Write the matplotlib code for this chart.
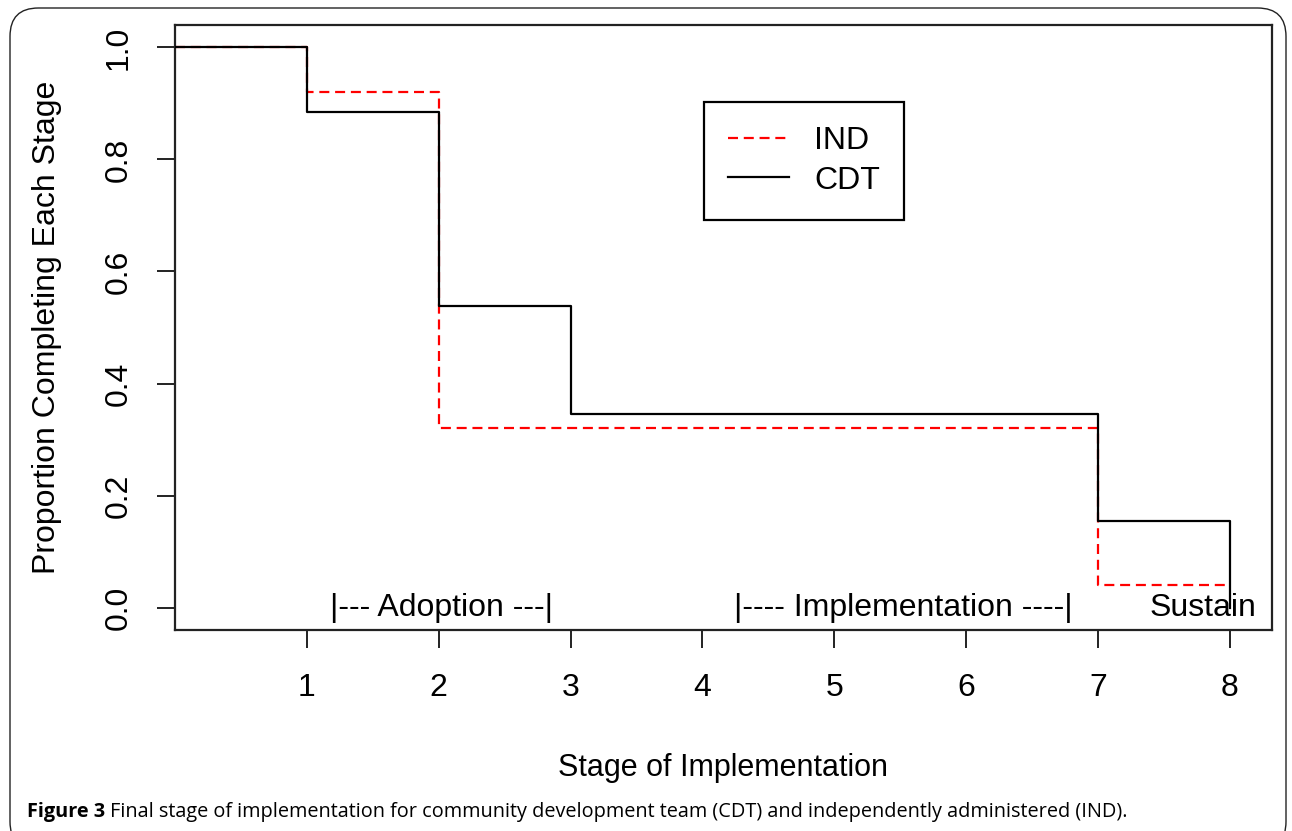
import matplotlib
matplotlib.use("Agg")
import matplotlib.pyplot as plt
from matplotlib.patches import FancyBboxPatch
from matplotlib.lines import Line2D

# Data
stages = [0, 1, 2, 3, 4, 5, 6, 7, 8]
cdt = [1.0, 0.885, 0.538, 0.346, 0.346, 0.346, 0.346, 0.154, 0.0]
ind = [1.0, 0.92, 0.32, 0.32, 0.32, 0.32, 0.32, 0.04, 0.04]
xticks = [1, 2, 3, 4, 5, 6, 7, 8]
yticks = [0.0, 0.2, 0.4, 0.6, 0.8, 1.0]
ytick_labels = ["0.0", "0.2", "0.4", "0.6", "0.8", "1.0"]
phase_labels = ["|--- Adoption ---|", "|---- Implementation ----|", "Sustain"]
phase_x = [2.02, 5.52, 7.8]

plt.rcParams['font.family'] = ['Liberation Sans', 'DejaVu Sans']

W, H = 1292, 831
fig = plt.figure(figsize=(W / 100, H / 100), dpi=100)

# outer rounded frame
frame = FancyBboxPatch((10 / W, 1 - 850 / H), (1286 - 10) / W, (850 - 8) / H,
                       boxstyle="round,pad=0,rounding_size=0.022",
                       transform=fig.transFigure, fill=False,
                       edgecolor="#222222", linewidth=1.0, mutation_aspect=W / H)
fig.patches.append(frame)

ax = fig.add_axes([175 / W, 1 - 630 / H, (1272 - 175) / W, (630 - 25) / H])
ax.set_xlim(0, 8.32)
ax.set_ylim(-0.04, 1.04)

lw = 1.6
ax.step(stages, ind, where="post", color="#ff0000", linewidth=lw,
        linestyle=(0, (4.5, 2.6)), zorder=2)
ax.step(stages, cdt, where="post", color="black", linewidth=lw, zorder=3)

for lab, xp in zip(phase_labels, phase_x):
    ax.text(xp, 0.0, lab, ha="center", va="center", fontsize=23)

ax.set_xticks(xticks)
ax.set_xticklabels([str(t) for t in xticks])
ax.set_yticks(yticks)
ax.set_yticklabels(ytick_labels, rotation=90, va="center")
ax.tick_params(axis="both", length=13, width=1.4, labelsize=23, color="#222222")
ax.tick_params(axis="x", pad=18)
ax.tick_params(axis="y", pad=17)
for s in ax.spines.values():
    s.set_linewidth(1.6)
    s.set_color("#222222")

ax.set_ylabel("Proportion Completing Each Stage", fontsize=23, labelpad=30)
fig.text(723 / W, 1 - 776 / H, "Stage of Implementation", ha="center",
         va="baseline", fontsize=22)

# legend
handles = [Line2D([], [], color="#ff0000", linewidth=lw, linestyle=(0, (4.5, 2.6))),
           Line2D([], [], color="black", linewidth=lw)]
leg = ax.legend(handles, ["IND", "CDT"], loc="upper left",
                bbox_to_anchor=((704 - 175) / (1272 - 175), 1 - (102 - 25) / (630 - 25)),
                fontsize=23, frameon=True, fancybox=False, framealpha=1,
                edgecolor="black", handlelength=1.9, handletextpad=0.8,
                borderpad=0.75, labelspacing=0.3, borderaxespad=0)
leg.get_frame().set_linewidth(1.6)

# caption
cap_font = ["Open Sans", "DejaVu Sans"]
t1 = fig.text(27 / W, 1 - 817 / H, "Figure 3", fontsize=14.3, fontweight="bold",
              family=cap_font, va="baseline", ha="left")
fig.canvas.draw()
bb = t1.get_window_extent()
fig.text((bb.x1 + 5) / W, 1 - 817 / H,
         "Final stage of implementation for community development team (CDT) and independently administered (IND).",
         fontsize=14.3, family=cap_font, va="baseline", ha="left")

fig.savefig("out.png", dpi=100)
